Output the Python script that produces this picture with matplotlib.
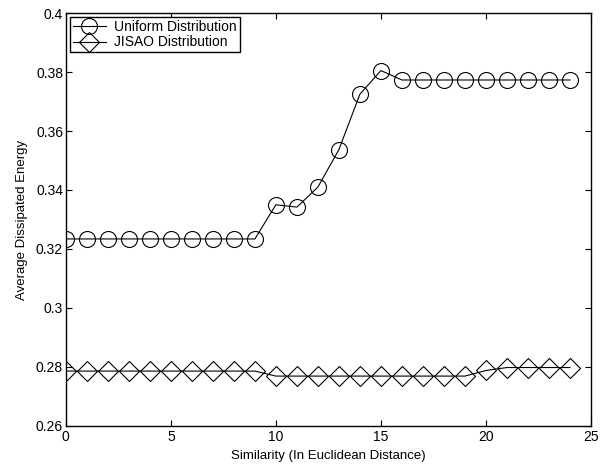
import numpy as np
from matplotlib import pyplot as plt

plt.rcParams["font.family"] = ["Liberation Sans", "DejaVu Sans"]

# similarity values
x = np.arange(0, 25)

uniform = [0.3234, 0.3234, 0.3234, 0.3234, 0.3234, 0.3234, 0.3234, 0.3234, 0.3234, 0.3234,
           0.3350, 0.3342, 0.3410, 0.3537, 0.3725, 0.3805,
           0.3773, 0.3773, 0.3773, 0.3773, 0.3773, 0.3773, 0.3773, 0.3773, 0.3773]
jisao = [0.2786, 0.2786, 0.2786, 0.2786, 0.2786, 0.2786, 0.2786, 0.2786, 0.2786, 0.2786,
         0.2769, 0.2769, 0.2769, 0.2769, 0.2769, 0.2769, 0.2769, 0.2769, 0.2769, 0.2769,
         0.2788, 0.2798, 0.2798, 0.2798, 0.2798]

fig = plt.figure(figsize=(6.15, 4.66), dpi=100)
ax = fig.add_axes([0.107, 0.086, 0.854, 0.886])

ax.plot(x, uniform, 'k-', marker='o', markersize=11.5, markerfacecolor='none',
        markeredgewidth=0.8, linewidth=0.8, label='Uniform Distribution')
ax.plot(x, jisao, 'k-', marker='D', markersize=10.5, markerfacecolor='none',
        markeredgewidth=0.8, linewidth=0.8, label='JISAO Distribution')

ax.set_xlim(0, 25)
ax.set_ylim(0.26, 0.4)
ax.set_xticks([0, 5, 10, 15, 20, 25])
ax.set_yticks([0.26, 0.28, 0.3, 0.32, 0.34, 0.36, 0.38, 0.4])
ax.set_yticklabels(['0.26', '0.28', '0.3', '0.32', '0.34', '0.36', '0.38', '0.4'])
ax.tick_params(direction='in', top=True, right=True, labelsize=10, length=4,
               width=0.8, pad=2)
ax.tick_params(axis='x', pad=3)
for s in ax.spines.values():
    s.set_linewidth(1.0)

ax.set_xlabel('Similarity (In Euclidean Distance)', fontsize=9.5, labelpad=4)
ax.set_ylabel('Average Dissipated Energy', fontsize=9.5, labelpad=6)

leg = ax.legend(loc='upper left', fontsize=10, fancybox=False, framealpha=1,
                edgecolor='black', borderpad=0.2, labelspacing=0.1,
                handlelength=2.4, handletextpad=0.6, borderaxespad=0.3)
leg.get_frame().set_linewidth(1.0)

fig.savefig('out.png', dpi=100)
